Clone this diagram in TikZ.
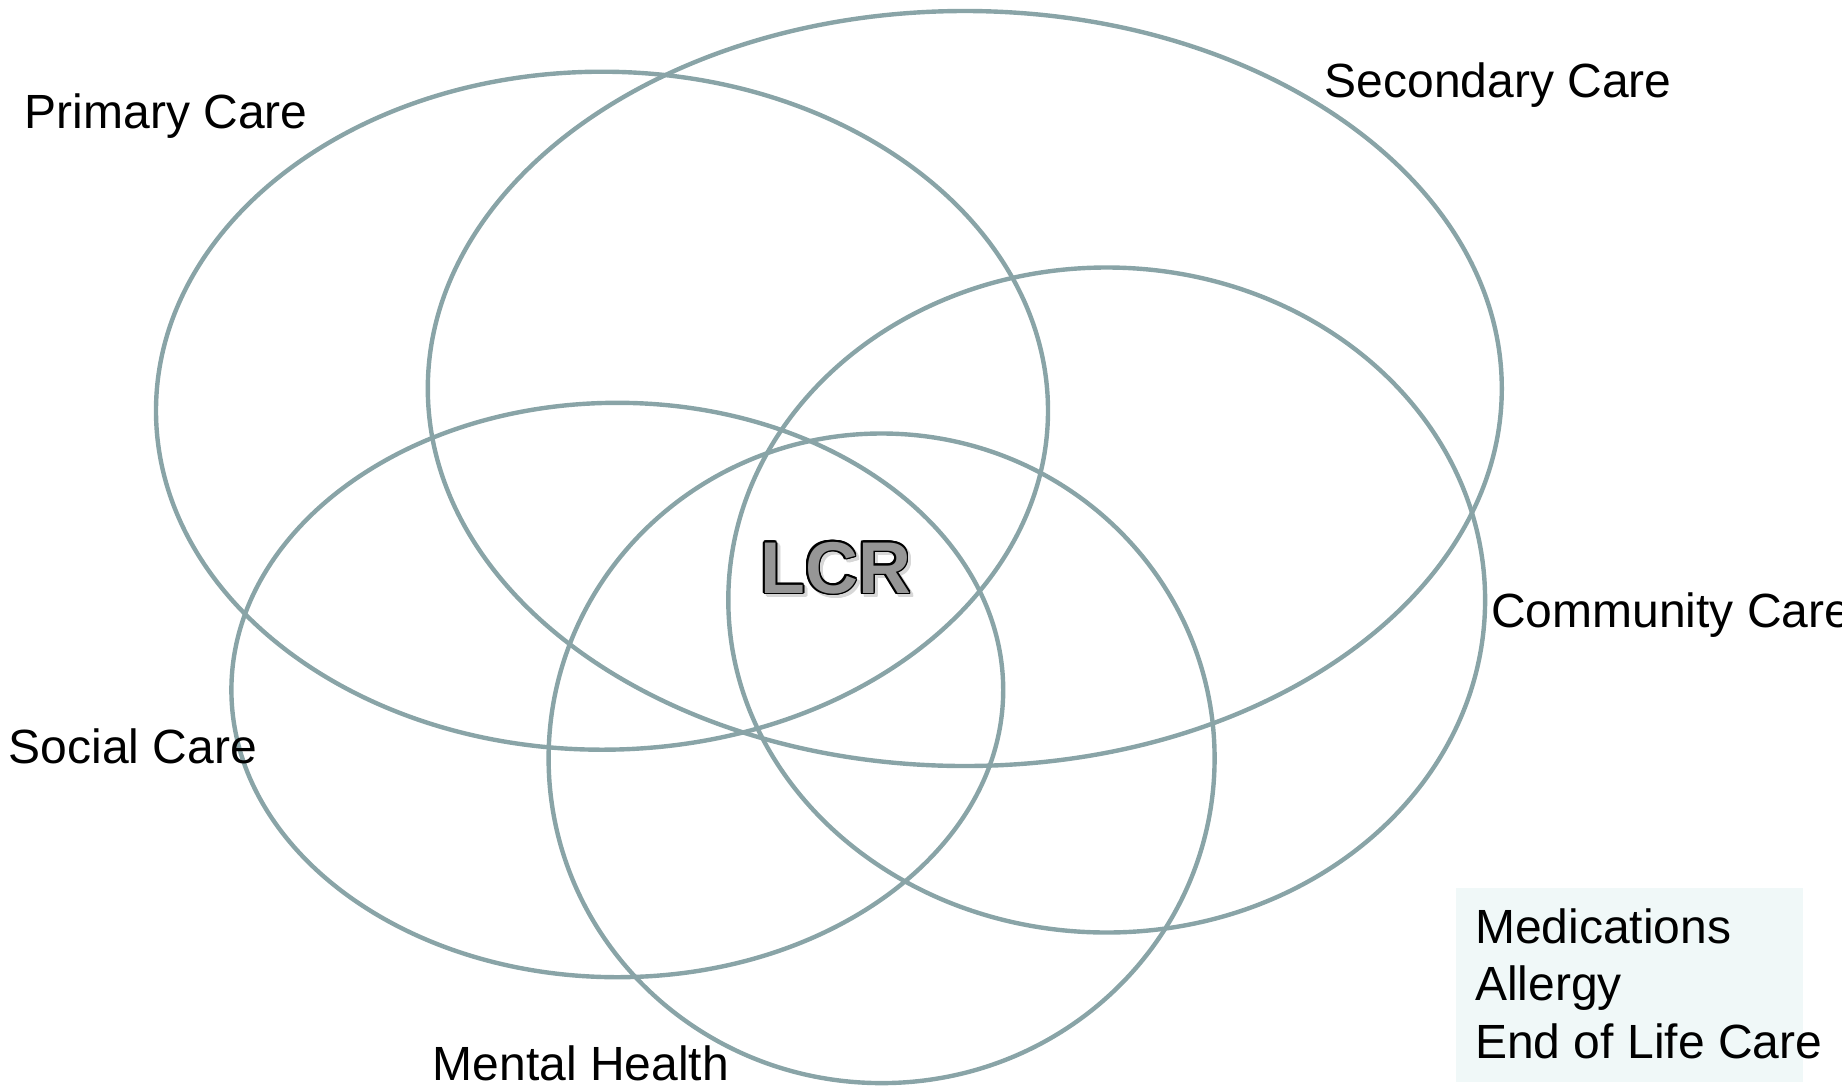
\documentclass[tikz,border=0pt]{standalone}
\usepackage{fontspec}
\setmainfont{Liberation Sans}
\usepackage{contour}
\contourlength{1.3pt}
\definecolor{ringcol}{RGB}{137,164,167}
\definecolor{boxcol}{RGB}{240,248,248}
\definecolor{lcrgray}{RGB}{150,150,150}
\definecolor{shadowgray}{RGB}{215,215,215}
\tikzset{
  ring/.style={draw=ringcol, line width=3.3pt},
  lbl/.style={anchor=base west, inner sep=0pt, font=\fontsize{36}{43}\selectfont},
  lcrtext/.style={anchor=base west, inner sep=0pt, font=\fontsize{55}{60}\selectfont\bfseries},
}
\begin{document}
\begin{tikzpicture}[x=0.75pt,y=0.75pt,yscale=-1,xscale=1]
\useasboundingbox (0,0) rectangle (1842,1086);

%Shape: Ellipses
\draw [ring] (602,410.7) ellipse [x radius=446, y radius=339];
\draw [ring] (964.8,388.5) ellipse [x radius=537, y radius=377.5];
\draw [ring] (1106.7,600) ellipse [x radius=378.4, y radius=332.5];
\draw [ring] (617.3,690) ellipse [x radius=385.9, y radius=287.2];
\draw [ring] (881.6,758.3) ellipse [x radius=333, y radius=324.8];

% Box
\fill [boxcol] (1456,888) rectangle (1803,1082);

% Text Nodes
\node (primary) [lbl] at (24.5,128) {Primary Care};
\node (secondary) [lbl] at (1324.5,97) {Secondary Care};
\node (community) [lbl] at (1491,627) {Community Care};
\node (social) [lbl] at (8.5,763) {Social Care};
\node (mental) [lbl] at (432.5,1080) {Mental Health};

\node (meds) [lbl] at (1475,943) {Medications};
\node (allergy) [lbl] at (1475,1000) {Allergy};
\node (eol) [lbl] at (1475,1058) {End of Life Care};

% LCR
\node (lcrshadow) [lcrtext] at (763,596) {\contour{shadowgray}{\textcolor{shadowgray}{LCR}}};
\node (lcr) [lcrtext] at (760,593) {\contour{black}{\textcolor{lcrgray}{LCR}}};
\end{tikzpicture}
\end{document}
